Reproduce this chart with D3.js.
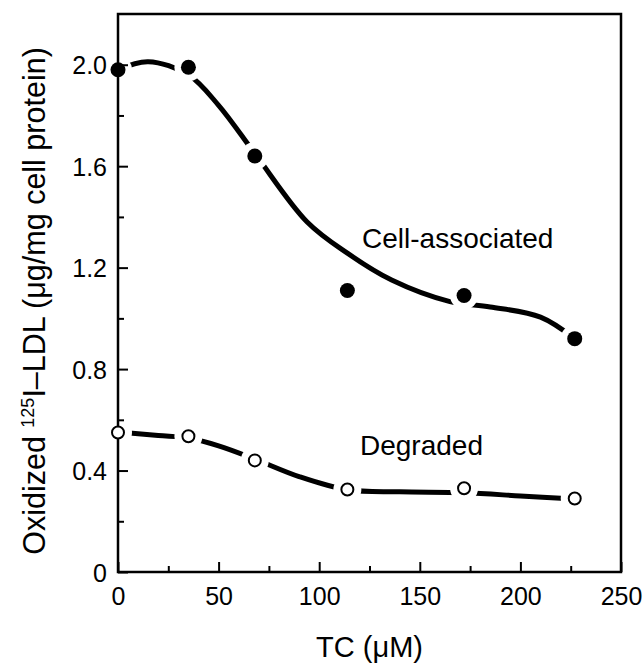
<!DOCTYPE html>
<html>
<head>
<meta charset="utf-8">
<script src="https://cdn.jsdelivr.net/npm/d3@7"></script>
<style>
  html, body { margin: 0; padding: 0; background: #fff; }
  svg { display: block; font-family: "Liberation Sans", Arial, sans-serif; }
</style>
</head>
<body>
<svg id="chart" width="644" height="668"></svg>
<script>
// Measured points: TC concentration (μM) vs oxidized 125I-LDL (μg/mg cell protein)
const tcLevels = [0, 35, 68, 114, 172, 227];
const cellAssociated = [1.98, 1.99, 1.64, 1.11, 1.09, 0.92];
const degraded = [0.55, 0.535, 0.44, 0.325, 0.33, 0.29];

// Hand-fitted trend curves, given as knots
const cellFitTC = [0, 15, 35, 50, 68, 94, 114, 136, 165, 185, 210, 227];
const cellFitVal = [1.98, 2.012, 1.96, 1.84, 1.65, 1.38, 1.257, 1.151, 1.066, 1.045, 1.005, 0.92];
const degFitTC = [0, 20, 35, 50, 68, 90, 114, 140, 172, 200, 227];
const degFitVal = [0.552, 0.538, 0.528, 0.497, 0.445, 0.376, 0.324, 0.316, 0.312, 0.300, 0.288];

// Axis ticks
const xMajorTicks = [0, 50, 100, 150, 200, 250];
const xMinorTicks = [25, 75, 125, 175, 225];
const yMajorTicks = [0, 0.4, 0.8, 1.2, 1.6, 2.0];
const yMinorTicks = [0.2, 0.6, 1.0, 1.4, 1.8];

const margin = { left: 118, right: 23, top: 14, bottom: 96 };
const W = 644, H = 668;
const x = d3.scaleLinear().domain([0, 250]).range([margin.left, W - margin.right]);
const y = d3.scaleLinear().domain([0, 2.2]).range([H - margin.bottom, margin.top]);

const svg = d3.select("#chart");
const tickFont = "'Liberation Sans Narrow', 'Liberation Sans', Arial, sans-serif";

const line = d3.line()
  .x(d => x(d[0]))
  .y(d => y(d[1]))
  .curve(d3.curveCatmullRom.alpha(0.5));

const cellFit = d3.zip(cellFitTC, cellFitVal);
const degFit = d3.zip(degFitTC, degFitVal);
const cellPts = d3.zip(tcLevels, cellAssociated);
const degPts = d3.zip(tcLevels, degraded);

// Trend curves
svg.selectAll("path.fit")
  .data([cellFit, degFit])
  .join("path")
  .attr("class", "fit")
  .attr("d", line)
  .attr("fill", "none")
  .attr("stroke", "#000")
  .attr("stroke-width", 5)
  .attr("stroke-linecap", "round");

// White halos open a gap in the curves around each marker
svg.selectAll("circle.halo")
  .data(cellPts.concat(degPts))
  .join("circle")
  .attr("class", "halo")
  .attr("cx", d => x(d[0]))
  .attr("cy", d => y(d[1]))
  .attr("r", 14)
  .attr("fill", "#fff");

// Frame
const x0 = x(0), x1 = x(250), y0 = y(0), y1 = y(2.2);
svg.append("rect")
  .attr("x", x0).attr("y", y1)
  .attr("width", x1 - x0).attr("height", y0 - y1)
  .attr("fill", "none").attr("stroke", "#000").attr("stroke-width", 2.5);

// Inward ticks
const xAxis = d3.axisBottom(x).tickValues(xMajorTicks).tickSize(-10).tickPadding(15)
  .tickFormat(d3.format("d"));
const gx = svg.append("g").attr("transform", `translate(0,${y0})`).call(xAxis);
const gxMinor = svg.append("g").attr("transform", `translate(0,${y0})`)
  .call(d3.axisBottom(x).tickValues(xMinorTicks).tickSize(-6).tickFormat(""));

const yAxis = d3.axisLeft(y).tickValues(yMajorTicks).tickSize(-10).tickPadding(11)
  .tickFormat(d => d === 0 ? "0" : d3.format(".1f")(d));
const gy = svg.append("g").attr("transform", `translate(${x0},0)`).call(yAxis);
const gyMinor = svg.append("g").attr("transform", `translate(${x0},0)`)
  .call(d3.axisLeft(y).tickValues(yMinorTicks).tickSize(-6).tickFormat(""));

[gx, gxMinor, gy, gyMinor].forEach(g => {
  g.select(".domain").remove();
  g.selectAll(".tick line").attr("stroke", "#000").attr("stroke-width", 2);
  g.selectAll(".tick text")
    .attr("fill", "#000")
    .style("font-size", "25px")
    .style("font-family", tickFont);
});
gy.selectAll(".tick text").attr("dy", "0.36em");

// Markers
svg.selectAll("circle.cell")
  .data(cellPts)
  .join("circle")
  .attr("class", "cell")
  .attr("cx", d => x(d[0]))
  .attr("cy", d => y(d[1]))
  .attr("r", 7.5)
  .attr("fill", "#000");

svg.selectAll("circle.deg")
  .data(degPts)
  .join("circle")
  .attr("class", "deg")
  .attr("cx", d => x(d[0]))
  .attr("cy", d => y(d[1]))
  .attr("r", 6)
  .attr("fill", "#fff")
  .attr("stroke", "#000")
  .attr("stroke-width", 2);

// Series labels
svg.append("text")
  .attr("x", 362).attr("y", 248)
  .style("font-size", "28px")
  .text("Cell-associated");

svg.append("text")
  .attr("x", 360).attr("y", 455)
  .style("font-size", "28px")
  .text("Degraded");

// Axis titles
svg.append("text")
  .attr("x", (x0 + x1) / 2).attr("y", 657)
  .attr("text-anchor", "middle")
  .style("font-size", "29px")
  .text("TC (μM)");

const yt = svg.append("text")
  .attr("transform", `translate(45,301) rotate(-90)`)
  .attr("text-anchor", "middle")
  .style("font-size", "30.5px");
yt.append("tspan").text("Oxidized ");
yt.append("tspan").attr("dy", -11).style("font-size", "18px").text("125");
yt.append("tspan").attr("dy", 11).text("I–LDL (μg/mg cell protein)");
</script>
</body>
</html>
